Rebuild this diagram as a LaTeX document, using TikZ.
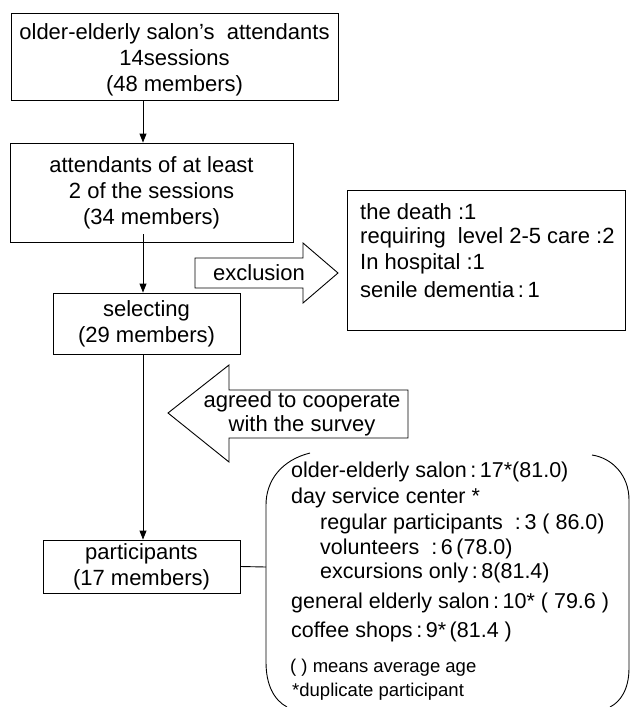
\documentclass[tikz,border=0pt]{standalone}
\usepackage{fontspec}
\setmainfont{Liberation Sans}
\usetikzlibrary{arrows.meta}
\tikzset{
  box/.style={draw, line width=0.9pt, inner sep=0pt, align=center, font=\fontsize{22}{26}\selectfont},
  boxtext/.style={inner sep=0pt, align=center, font=\fontsize{22}{26}\selectfont},
  conn/.style={line width=0.9pt, -{Triangle[length=9pt,width=7pt]}},
  bigarrow/.style={draw, line width=0.9pt, line join=miter},
  txt/.style={inner sep=0pt, anchor=west, font=\fontsize{21.5}{25}\selectfont},
  extxt/.style={inner sep=0pt, anchor=west, font=\fontsize{22}{26}\selectfont},
  small/.style={inner sep=0pt, anchor=west, font=\fontsize{18.5}{22}\selectfont},
}
\begin{document}
\begin{tikzpicture}[x=1pt,y=-1pt]
\useasboundingbox (0,0) rectangle (631,707);
\coordinate (col) at (143,0);
% boxes
\node[box, minimum width=327pt, minimum height=87pt] (b1) at (174.5,56.5) {};
\node[boxtext] (b1t) at (174.5,60) {older-elderly salon's\ \ attendants\\14sessions\\(48 members)};
\node[box, minimum width=283pt, minimum height=99pt] (b2) at (151.5,192.5)
  {attendants of at least\\2 of the sessions\\(34 members)};
\node[box, minimum width=187pt, minimum height=61pt] (sel) at (146.5,323.5)
  {selecting\\(29 members)};
\node[box, minimum width=197pt, minimum height=53pt] (part) at (141.5,566.5)
  {participants\\(17 members)};
% exclusion box
\node[draw, line width=0.9pt, minimum width=278pt, minimum height=140pt, inner sep=0pt] (exb) at (486,260) {};
\node[extxt] (e1) at (360,212) {the death\ :1};
\node[extxt] (e2) at (360,238) {requiring\ \ level 2-5 care :2};
\node[extxt] (e3) at (360,264) {In hospital :1};
\node[extxt] (e4) at (360,290) {senile dementia\,:\,1};
% connectors
\draw[conn] (b1.south -| col) -- (b2.north -| col);
\draw[conn] ([yshift=8pt]b2.south -| col) -- (sel.north -| col);
\draw[conn] (sel.south -| col) -- (part.north -| col);
% exclusion arrow
\draw[bigarrow] (195,258) -- (303,258) -- (303,243) -- (338,273) -- (303,303) -- (303,288) -- (195,288) -- cycle;
\node[inner sep=0pt, font=\fontsize{22}{26}\selectfont] (ex) at (259,273) {exclusion};
% agreed arrow
\draw[bigarrow] (408,390) -- (229,390) -- (229,365) -- (168,413) -- (229,462) -- (229,438) -- (408,438) -- cycle;
\node[inner sep=0pt, align=center, font=\fontsize{22}{23.5}\selectfont] (ag) at (302,414) {agreed to cooperate\\with the survey};
% bracket
\coordinate (bl) at (266,567);
\draw[line width=0.9pt] (part.east) -- (bl);
\draw[line width=0.9pt] (310,453) .. controls (282,460) and (266,480) .. (266,505) -- (266,662) .. controls (266,685) and (274,700) .. (287,707);
\draw[line width=0.9pt] (592,455) .. controls (612,458) and (629,475) .. (629,500) -- (629,668) .. controls (629,690) and (620,702) .. (610,707);
% bracket text
\node[txt] (t1) at (291,472) {older-elderly salon\,:\,17*(81.0)};
\node[txt] (t2) at (291,498) {day service center *};
\node[txt] (t3) at (320,524) {regular participants\ \ :\,3 ( 86.0)};
\node[txt] (t4) at (320,549) {volunteers\ \ :\,6\,(78.0)};
\node[txt] (t5) at (320,573) {excursions only\,:\,8(81.4)};
\node[txt] (t6) at (291,603) {general elderly salon\,:\,10* ( 79.6 )};
\node[txt] (t7) at (291,632) {coffee shops\,:\,9*\,(81.4 )};
\node[small] (t8) at (290,668) {( ) means average age};
\node[small] (t9) at (292,692) {*duplicate participant};
\end{tikzpicture}
\end{document}
